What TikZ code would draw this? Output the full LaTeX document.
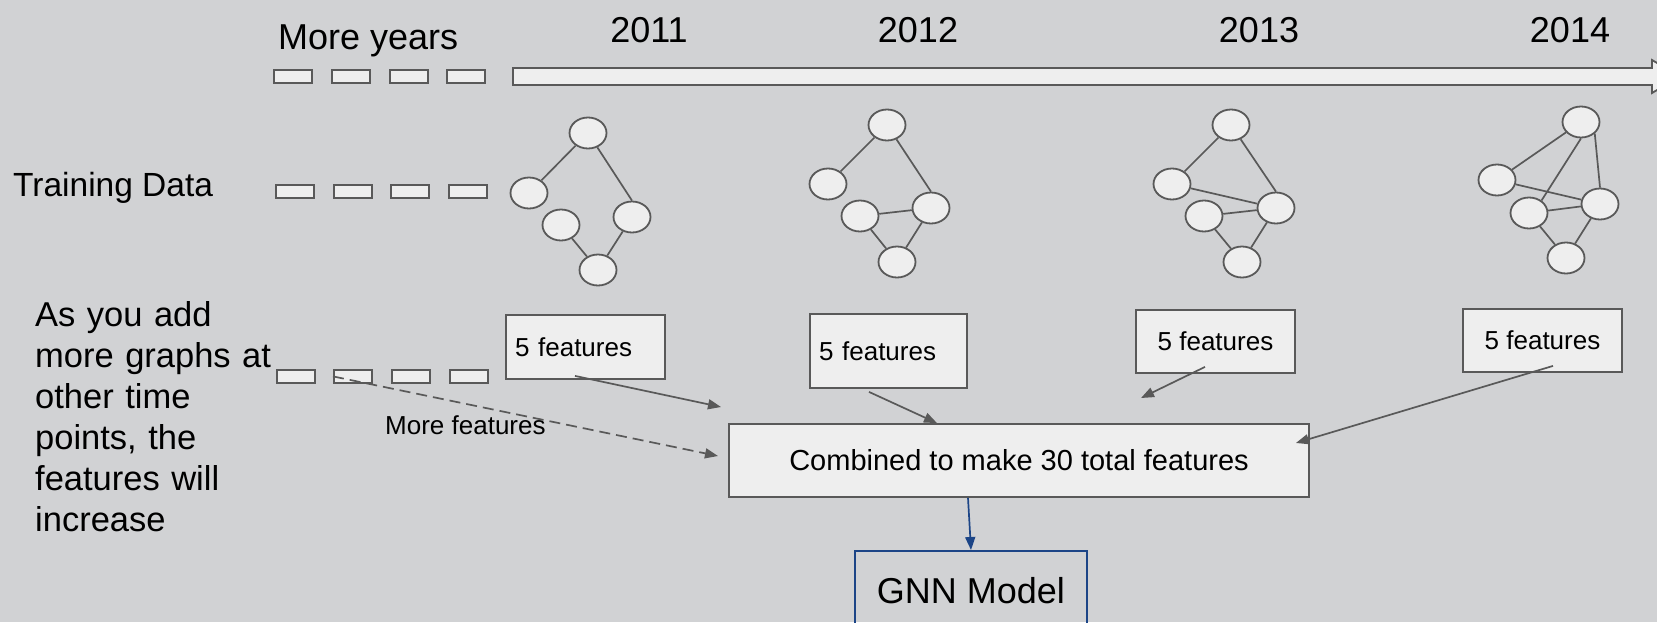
\documentclass[tikz,border=0pt]{standalone}
\usepackage{fontspec}
\setmainfont{Liberation Sans}
\usetikzlibrary{arrows.meta,shapes.geometric}

\definecolor{canvas}{RGB}{209,210,212}
\definecolor{boxfill}{RGB}{238,238,238}
\definecolor{stroke}{RGB}{89,89,89}
\definecolor{navy}{RGB}{28,69,135}

\tikzset{
  slot/.style={draw=stroke, fill=boxfill, line width=1.8pt, minimum width=38pt, minimum height=13pt, inner sep=0pt, anchor=north west},
  vert/.style={ellipse, draw=stroke, fill=boxfill, line width=1.8pt, minimum width=37pt, minimum height=31pt, inner sep=0pt},
  edge/.style={draw=stroke, line width=1.7pt},
  featbox/.style={draw=stroke, fill=boxfill, line width=1.8pt, minimum height=63pt, inner sep=0pt, font=\fontsize{26}{30}\selectfont},
  leftbox/.style={featbox, inner xsep=9pt, align=left},
  feat/.style={draw=stroke, line width=1.7pt, -{Triangle[length=13pt,width=10pt]}},
  yearlabel/.style={anchor=base, inner sep=0pt, font=\fontsize{36}{42}\selectfont},
}

\begin{document}
\begin{tikzpicture}[x=1pt, y=-1pt]
  % page and background
  \fill[canvas] (0,0) rectangle (1657,622);
  \useasboundingbox (0,0) rectangle (1657,622);
  \clip (0,0) rectangle (1657,622);

  % headings
  \node[anchor=base west, inner sep=0pt, font=\fontsize{36}{42}\selectfont] (moreyears) at (278,49) {More years};
  \node[yearlabel] (y2011) at (649,42) {2011};
  \node[yearlabel] (y2012) at (918,42) {2012};
  \node[yearlabel] (y2013) at (1259,42) {2013};
  \node[yearlabel] (y2014) at (1570,42) {2014};

  \node[anchor=base west, inner sep=0pt, font=\fontsize{33.5}{40}\selectfont] (training) at (13,196) {Training Data};

  \node[anchor=base west, inner sep=0pt, text width=300pt, align=left, font=\fontsize{34.5}{41}\selectfont] (note) at (35,326)
    {As you add\\more graphs at\\other time\\points, the\\features will\\increase};

  % earlier years, drawn as short slots
  \foreach \x [count=\i] in {273,331,389,446} \node[slot] (ra\i) at (\x,69) {};
  \foreach \x [count=\i] in {275,333,390,448} \node[slot] (rb\i) at (\x,184) {};
  \foreach \x [count=\i] in {276,333,391,449} \node[slot] (rc\i) at (\x,369) {};

  % time axis
  \draw[draw=stroke, fill=boxfill, line width=1.8pt, line join=miter]
    (513,68) -- (1652,68) -- (1652,60) -- (1680,76.5) -- (1652,93) -- (1652,85) -- (513,85) -- cycle;

  % graph of 2011
  \node[vert] (a1) at (588,133) {};
  \node[vert] (a2) at (529,193) {};
  \node[vert] (a3) at (561,225) {};
  \node[vert] (a4) at (632,217) {};
  \node[vert] (a5) at (598,270) {};
  \draw[edge] (a1) -- (a2);
  \draw[edge] (a1) -- (a4.north);
  \draw[edge] (a3) -- (a5);
  \draw[edge] (a4) -- (a5);

  % graph of 2012
  \node[vert] (b1) at (887,125) {};
  \node[vert] (b2) at (828,184) {};
  \node[vert] (b3) at (860,216) {};
  \node[vert] (b4) at (931,208) {};
  \node[vert] (b5) at (897,262) {};
  \draw[edge] (b1) -- (b2);
  \draw[edge] (b1) -- (b4.north);
  \draw[edge] (b3) -- (b4);
  \draw[edge] (b3) -- (b5);
  \draw[edge] (b4) -- (b5);

  % graph of 2013
  \node[vert] (c1) at (1231,125) {};
  \node[vert] (c2) at (1172,184) {};
  \node[vert] (c3) at (1204,216) {};
  \node[vert] (c4) at (1276,208) {};
  \node[vert] (c5) at (1242,262) {};
  \draw[edge] (c1) -- (c2);
  \draw[edge] (c1) -- (c4.north);
  \draw[edge] (c2) -- (c4);
  \draw[edge] (c3) -- (c4);
  \draw[edge] (c3) -- (c5);
  \draw[edge] (c4) -- (c5);

  % graph of 2014
  \node[vert] (d1) at (1581,122) {};
  \node[vert] (d2) at (1497,180) {};
  \node[vert] (d3) at (1529,213) {};
  \node[vert] (d4) at (1600,204) {};
  \node[vert] (d5) at (1566,258) {};
  \draw[edge] (d1) -- (d2);
  \draw[edge] (d1.south) -- (d3.45);
  \draw[edge] (d1.-40) -- (d4.north);
  \draw[edge] (d2) -- (d4);
  \draw[edge] (d3) -- (d4);
  \draw[edge] (d3) -- (d5);
  \draw[edge] (d4) -- (d5);

  % feature boxes
  \node[leftbox, text width=141pt, minimum height=64pt] (f1) at (585.5,347) {5 features};
  \node[leftbox, text width=139pt, minimum height=74pt] (f2) at (888.5,351) {5 features};
  \node[featbox, minimum width=159pt] (f3) at (1215.5,341.5) {5 features};
  \node[featbox, minimum width=159pt] (f4) at (1542.5,340.5) {5 features};

  \node[draw=stroke, fill=boxfill, line width=1.8pt, minimum width=580pt, minimum height=73pt, inner sep=0pt,
        font=\fontsize{29}{34}\selectfont] (comb) at (1019,460.5) {Combined to make 30 total features};

  \node[draw=navy, line width=1.8pt, minimum width=232pt, minimum height=80pt, inner sep=0pt, anchor=north,
        font=\fontsize{36}{42}\selectfont] (gnn) at (971,550) {GNN Model};

  \node[anchor=base west, inner sep=0pt, font=\fontsize{26}{30}\selectfont] (morefeat) at (385,434) {More features};

  % connectors
  \coordinate (e1) at (721,407);
  \coordinate (e3) at (1141,398);
  \coordinate (e0) at (718,456);
  \draw[feat] ([shift={(-10.5pt,4pt)}]f1.south) -- (e1);
  \draw[feat] ([shift={(-19.5pt,-3pt)}]f2.south) -- ([xshift=-82pt]comb.north);
  \draw[feat] ([shift={(-10.5pt,7pt)}]f3.south) -- (e3);
  \draw[feat] ([shift={(10.5pt,7pt)}]f4.south) -- ([shift={(-14pt,17.5pt)}]comb.east);
  \draw[feat, dash pattern=on 11pt off 6pt] (rc2.west) -- (e0);
  \draw[draw=navy, line width=1.7pt, -{Triangle[length=13pt,width=10pt]}] ([xshift=-51pt]comb.south) -- (gnn.north);
\end{tikzpicture}
\end{document}
